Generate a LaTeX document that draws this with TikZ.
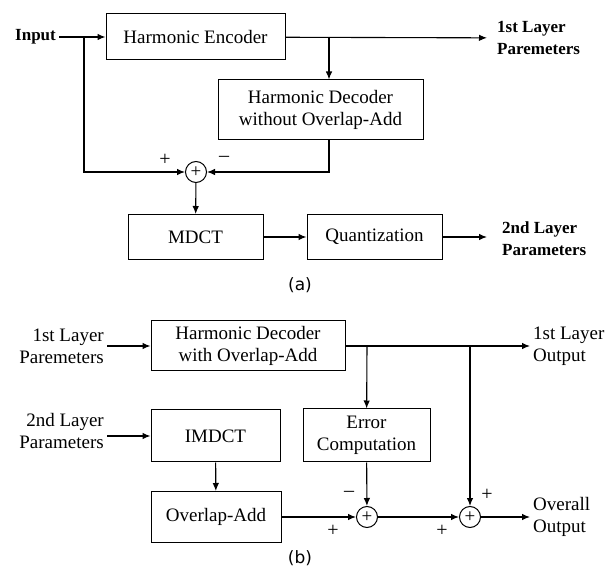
\documentclass[tikz,border=0pt]{standalone}
\usepackage{fontspec}
\setmainfont{Liberation Serif}
\newfontfamily\capfont{DejaVu Sans}
\usetikzlibrary{arrows, arrows.meta}

\tikzset{
	blk/.style={draw=black, line width=1pt, inner sep=0pt, align=center, font=\fontsize{19}{22}\selectfont},
	sumnode/.style={circle, draw=black, line width=1pt, minimum size=21pt, inner sep=0pt, font=\fontsize{19}{19}\selectfont},
	lbl/.style={inner sep=3pt, font=\fontsize{19}{22}\selectfont},
	blbl/.style={inner sep=3pt, align=left, font=\bfseries\fontsize{17}{22}\selectfont},
	sgn/.style={inner sep=0pt, font=\fontsize{20}{20}\selectfont},
	captext/.style={font=\capfont\fontsize{17}{17}\selectfont},
	arr/.style={-{Latex[length=8pt,width=6.5pt]}, line width=1.1pt},
}

\begin{document}
\begin{tikzpicture}[x=1pt,y=-1pt]
	\useasboundingbox (0,0) rectangle (614,572);
	
	%(a) encoder
	\node[blbl, anchor=west] (input) at (12,37) {Input};
	\node[blk, minimum width=179pt, minimum height=46pt] (enc) at (195.5,37) {Harmonic Encoder};
	\node[blbl, anchor=west] (l1par) at (494,38) {1st Layer\\Paremeters};
	\node[blk, minimum width=205pt, minimum height=60pt] (dec) at (320.5,110) {Harmonic Decoder\\without Overlap-Add};
	\node[sumnode] (s1) at (196,172) {+};
	\node[blk, minimum width=135pt, minimum height=45pt] (mdct) at (195.5,237) {MDCT};
	\node[blk, minimum width=135pt, minimum height=45pt] (quant) at (374.5,237) {Quantization};
	\node[blbl, anchor=west] (l2par) at (499,238.5) {2nd Layer\\Parameters};
	\node[captext] (capa) at (300,285) {(a)};
	%
	\coordinate (inbr) at (84,37);
	\coordinate (encbr) at (329,37);
	
	%(a) signs
	\node[sgn] (pa) at (165,160) {+};
	\node[sgn] (ma) at (224,159) {\textendash};
	
	%(a) arrows
	\draw[arr] (input) -- (enc);
	\draw[arr, shorten >=7pt] (enc) -- (l1par);
	\draw[arr] (encbr) -- (encbr |- dec.north);
	\draw[arr] (inbr) |- (s1);
	\draw[arr] (dec.south -| encbr) |- (s1);
	\draw[arr] (s1) -- (mdct);
	\draw[arr] (mdct) -- (quant);
	\draw[arr, shorten >=12pt] (quant) -- (l2par.west |- quant);
	
	%(b) decoder
	\node[lbl, align=right, anchor=east] (in1) at (107,346) {1st Layer\\Paremeters};
	\node[blk, minimum width=194pt, minimum height=50pt] (hdec) at (248,346) {Harmonic Decoder\\with Overlap-Add};
	\node[lbl, align=left, anchor=west] (o1) at (530,346) {1st Layer\\Output};
	\node[lbl, align=right, anchor=east] (in2) at (107,431) {2nd Layer\\Parameters};
	\node[blk, minimum width=129pt, minimum height=52pt] (imdct) at (215.5,436) {IMDCT};
	\node[blk, minimum width=127pt, minimum height=53pt] (err) at (366.5,435.5) {Error\\Computation};
	\node[blk, minimum width=130pt, minimum height=51pt] (ola) at (216,517) {Overlap-Add};
	\node[sumnode] (s2) at (367,517) {+};
	\node[sumnode] (s3) at (470,517) {+};
	\node[lbl, align=left, anchor=west] (o2) at (530,517) {Overall\\Output};
	\node[captext] (capb) at (300,558) {(b)};
	%
	\coordinate (br1) at (367,346);
	\coordinate (br2) at (470,346);
	
	%(b) signs
	\node[sgn] (mb) at (349,494) {\textendash};
	\node[sgn] (pb1) at (333,531) {+};
	\node[sgn] (pb2) at (442,531) {+};
	\node[sgn] (pb3) at (487,495) {+};
	
	%(b) arrows
	\draw[arr] (in1.east |- hdec) -- (hdec);
	\draw[arr] (in2.east |- imdct) -- (imdct);
	\draw[arr] (hdec) -- (o1);
	\draw[arr] (br1) -- (err);
	\draw[arr] (br2) -- (s3);
	\draw[arr] (imdct) -- (ola);
	\draw[arr] (err) -- (s2);
	\draw[arr] (ola) -- (s2);
	\draw[arr] (s2) -- (s3);
	\draw[arr] (s3) -- (o2);
\end{tikzpicture}
\end{document}
